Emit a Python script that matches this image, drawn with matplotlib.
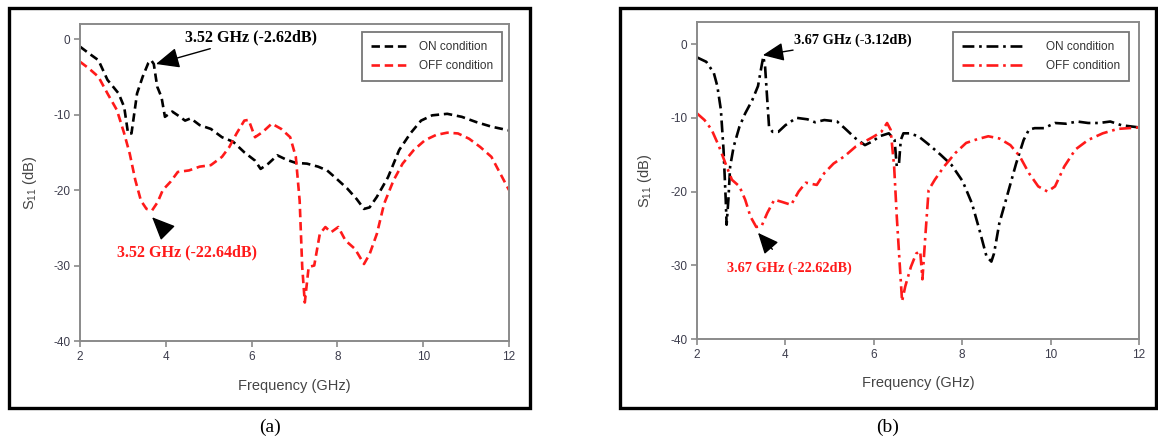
import matplotlib
matplotlib.use("Agg")
import matplotlib.pyplot as plt
from matplotlib.patches import Rectangle

# ---------------- data ----------------
# Panel (a)
a_on_f = [2.0, 2.21, 2.43, 2.64, 2.9, 3.03, 3.12, 3.2, 3.33, 3.46, 3.59, 3.66, 3.72, 3.8, 3.9, 3.98, 4.15,
          4.28, 4.45, 4.58, 4.79, 5.05, 5.31, 5.57, 5.83, 6.08, 6.21, 6.39, 6.6, 6.82, 7.03, 7.29,
          7.55, 7.76, 7.98, 8.23, 8.45, 8.62, 8.75, 8.92, 9.18, 9.44, 9.7, 9.95, 10.21, 10.56,
          10.9, 11.24, 11.59, 12.0]
a_on_s = [-1.0, -1.9, -2.8, -5.4, -7.2, -9.0, -12.5, -12.5, -7.2, -5.0, -3.2, -2.8, -3.3, -6.3, -7.7, -10.3, -9.6,
          -10.1, -10.8, -10.5, -11.4, -11.9, -13.0, -13.6, -15.0, -16.1, -17.2, -16.5, -15.4, -16.0,
          -16.4, -16.5, -16.9, -17.4, -18.5, -19.8, -21.2, -22.5, -22.3, -20.9, -18.3, -14.7,
          -12.5, -10.8, -10.1, -9.9, -10.3, -11.0, -11.6, -12.1]
a_off_f = [2.0, 2.21, 2.43, 2.64, 2.86, 3.03, 3.16, 3.29, 3.42, 3.55, 3.68, 3.81, 3.93, 4.11, 4.28,
           4.54, 4.79, 5.05, 5.31, 5.48, 5.65, 5.83, 5.93, 6.08, 6.26, 6.47, 6.69, 6.9, 7.03,
           7.12, 7.18, 7.24, 7.33, 7.46, 7.59, 7.72, 7.85, 8.02, 8.19, 8.41, 8.62, 8.75, 8.92,
           9.09, 9.31, 9.52, 9.78, 10.04, 10.3, 10.56, 10.81, 11.07, 11.33, 11.59, 12.0]
a_off_s = [-3.0, -3.9, -5.0, -7.2, -9.4, -12.5, -15.2, -18.7, -21.4, -22.5, -22.7, -21.6, -20.0,
           -18.9, -17.6, -17.4, -16.9, -16.7, -15.6, -14.3, -12.5, -10.8, -10.7, -13.0, -12.3,
           -11.2, -11.9, -13.0, -15.6, -21.4, -30.2, -34.9, -30.2, -30.0, -25.8, -24.9, -25.6,
           -24.9, -26.7, -27.8, -29.8, -28.5, -25.8, -21.8, -18.7, -16.5, -14.7, -13.4, -12.7,
           -12.4, -12.5, -13.2, -14.3, -15.6, -20.0]

# Panel (b)
b_on_f = [2.0, 2.21, 2.38, 2.46, 2.54, 2.6, 2.65, 2.67, 2.71, 2.75, 2.83, 2.96, 3.09, 3.25, 3.38,
          3.46, 3.5, 3.54, 3.59, 3.63, 3.71, 3.84, 4.0, 4.25, 4.5, 4.67, 4.88, 5.17, 5.34, 5.59,
          5.8, 5.97, 6.13, 6.34, 6.47, 6.52, 6.57, 6.61, 6.67, 6.8, 7.01, 7.26, 7.51, 7.76, 8.01,
          8.22, 8.39, 8.55, 8.66, 8.72, 8.84, 9.01, 9.22, 9.39, 9.51, 9.64, 9.85, 10.1, 10.35,
          10.6, 10.85, 11.1, 11.35, 11.6, 12.0]
b_on_s = [-1.8, -2.4, -3.9, -5.7, -8.9, -14.3, -21.1, -24.5, -21.1, -16.6, -13.9, -11.2, -9.4,
          -7.6, -5.7, -3.0, -1.7, -3.0, -7.6, -11.2, -11.9, -11.9, -11.0, -10.0, -10.2, -10.6,
          -10.3, -10.5, -11.4, -12.8, -13.7, -13.2, -12.5, -12.1, -13.0, -16.6, -16.2, -13.0,
          -12.1, -12.1, -12.5, -13.7, -15.0, -16.4, -18.6, -21.6, -25.2, -28.8, -29.5, -28.4,
          -24.3, -20.7, -16.2, -13.0, -11.6, -11.4, -11.4, -10.7, -10.8, -10.5, -10.7, -10.7,
          -10.5, -11.0, -11.3]
b_off_f = [2.0, 2.17, 2.33, 2.5, 2.67, 2.79, 2.96, 3.09, 3.21, 3.34, 3.46, 3.59, 3.75, 3.92, 4.13,
           4.3, 4.46, 4.71, 4.88, 5.09, 5.34, 5.59, 5.8, 6.01, 6.17, 6.3, 6.38, 6.46, 6.52, 6.59,
           6.64, 6.71, 6.84, 6.96, 7.05, 7.1, 7.17, 7.24, 7.38, 7.59, 7.84, 8.09, 8.34, 8.59,
           8.84, 9.09, 9.3, 9.51, 9.72, 9.93, 10.1, 10.31, 10.56, 10.85, 11.18, 11.52, 12.0]
b_off_s = [-9.4, -10.3, -11.6, -13.9, -16.6, -18.4, -19.3, -21.1, -23.4, -24.8, -24.7, -22.9,
           -21.1, -21.4, -21.8, -20.0, -18.8, -19.1, -17.5, -16.2, -15.2, -13.9, -13.2, -12.5,
           -11.9, -10.7, -11.6, -16.6, -23.4, -30.2, -34.9, -32.9, -30.2, -28.4, -28.1, -31.9,
           -25.7, -19.8, -18.4, -16.6, -14.8, -13.4, -12.9, -12.5, -12.8, -13.7, -15.2, -17.5,
           -19.3, -20.0, -19.3, -16.6, -14.3, -13.0, -12.1, -11.5, -11.3]

x_ticks = [2, 4, 6, 8, 10, 12]
y_ticks = [0, -10, -20, -30, -40]
series_labels = ["ON condition", "OFF condition"]

# ---------------- figure ----------------
W, H = 1158, 443
plt.rcParams["font.family"] = "Liberation Sans"
plt.rcParams["axes.unicode_minus"] = False
fig = plt.figure(figsize=(W / 100, H / 100), dpi=100)

SERIF = "Liberation Serif"

def px_rect(x0, y0, x1, y1):
    return [x0 / W, 1 - y1 / H, (x1 - x0) / W, (y1 - y0) / H]

# outer frames
for (x0, y0, x1, y1) in [(9, 8, 530, 408), (620, 8, 1156, 408)]:
    fig.patches.append(Rectangle((x0 / W, 1 - y1 / H), (x1 - x0) / W, (y1 - y0) / H,
                                 transform=fig.transFigure, fill=False,
                                 edgecolor="black", linewidth=2.4, zorder=0))

SPINE = "#8a8a8a"
TICKC = "#3c3c4c"
LABC = "#444444"
ARROW = dict(arrowstyle="-|>,head_length=1.25,head_width=0.55", color="black", lw=1.0, shrinkB=0)

def style_axes(ax, ytop):
    ax.set_xlim(2, 12)
    ax.set_ylim(-40, ytop)
    ax.set_xticks(x_ticks)
    ax.set_yticks(y_ticks)
    for s in ax.spines.values():
        s.set_color(SPINE)
        s.set_linewidth(1.4)
    ax.tick_params(direction="out", length=4, width=1.2, color=SPINE,
                   labelsize=8.5, labelcolor=TICKC, pad=3)
    ax.set_xlabel("Frequency (GHz)", fontsize=10.5, color=LABC)
    ax.set_ylabel(r"S$_{\mathregular{11}}$ (dB)", fontsize=10.5, color=LABC)
    ax.xaxis.label.set_va("center")
    ax.yaxis.label.set_va("center")

def style_legend(lg):
    lg.get_frame().set_edgecolor("#555555")
    lg.get_frame().set_linewidth(1.3)
    for t in lg.get_texts():
        t.set_color("#333333")

# ---- panel (a)
axa = fig.add_axes(px_rect(80, 24, 509, 341))
style_axes(axa, 2)
axa.plot(a_on_f, a_on_s, color="black", lw=1.9, ls=(0, (3.2, 1.8)), label=series_labels[0])
axa.plot(a_off_f, a_off_s, color="#ff1a1a", lw=1.9, ls=(0, (3.2, 1.8)), label=series_labels[1])
axa.xaxis.set_label_coords(0.5, -0.142)
axa.yaxis.set_label_coords(-0.117, 0.5)
lga = axa.legend(loc="upper left", bbox_to_anchor=((362 - 80) / 429, (341 - 32) / 317),
                 fontsize=8.5, frameon=True, fancybox=False, handlelength=3.1,
                 handletextpad=1.0, borderpad=0.75, labelspacing=0.6, borderaxespad=0)
style_legend(lga)

axa.annotate("3.52 GHz (-2.62dB)", xy=(3.77, -3.3), xytext=(4.45, 0.26),
             fontsize=11.5, fontweight="bold", family=SERIF, color="black",
             ha="left", va="center", arrowprops=dict(ARROW, shrinkA=2))
axa.annotate("3.52 GHz (-22.64dB)", xy=(3.68, -23.6), xytext=(4.49, -28.2),
             fontsize=11.5, fontweight="bold", family=SERIF, color="#ff1a1a",
             ha="center", va="center", arrowprops=dict(ARROW, shrinkA=9))

# ---- panel (b)
axb = fig.add_axes(px_rect(697, 22, 1139, 339))
style_axes(axb, 3)
axb.plot(b_on_f, b_on_s, color="black", lw=1.9, ls=(0, (4.5, 1.8, 1.0, 1.8)), label=series_labels[0])
axb.plot(b_off_f, b_off_s, color="#ff1a1a", lw=1.9, ls=(0, (4.5, 1.8, 1.0, 1.8)), label=series_labels[1])
axb.xaxis.set_label_coords(0.5, -0.139)
axb.yaxis.set_label_coords(-0.118, 0.5)
lgb = axb.legend(loc="upper left", bbox_to_anchor=((953 - 697) / 442, (339 - 32) / 317),
                 fontsize=8.5, frameon=True, fancybox=False, handlelength=5.3,
                 handletextpad=1.8, borderpad=0.75, labelspacing=0.6, borderaxespad=0)
style_legend(lgb)

axb.annotate("3.67 GHz (-3.12dB)", xy=(3.49, -1.5), xytext=(4.19, 0.54),
             fontsize=10.3, fontweight="bold", family=SERIF, color="black",
             ha="left", va="center", arrowprops=dict(ARROW, shrinkA=2))
axb.annotate("3.67 GHz (-22.62dB)", xy=(3.38, -25.6), xytext=(4.08, -30.4),
             fontsize=10.3, fontweight="bold", family=SERIF, color="#ff1a1a",
             ha="center", va="center", arrowprops=dict(ARROW, shrinkA=9))

# captions
fig.text(270 / W, 1 - 427 / H, "(a)", family=SERIF, fontsize=14, ha="center", va="center")
fig.text(888 / W, 1 - 427 / H, "(b)", family=SERIF, fontsize=14, ha="center", va="center")

fig.savefig("out.png", dpi=100)
